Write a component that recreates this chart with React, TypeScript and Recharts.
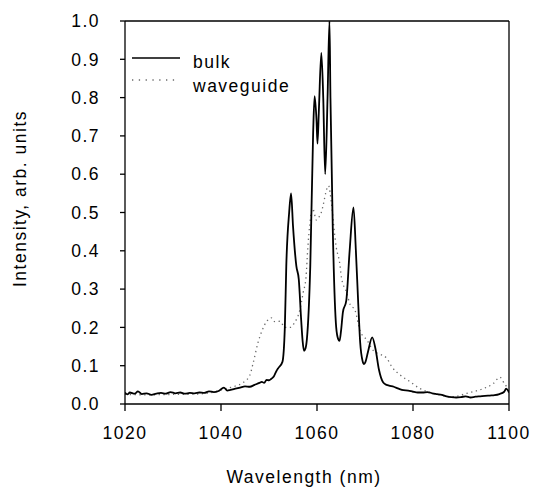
import React from "react";
import { LineChart, Line, XAxis, YAxis, Legend, ReferenceLine, Label } from "recharts";

const bulkX = [
  1020, 1020.5, 1021, 1022, 1022.7, 1023.5, 1024.5, 1025.5, 1026.5, 1027.5, 1028.5, 1029.5, 1030.5, 1031.5,
  1032.5, 1033.5, 1034.5, 1035.5, 1036.5, 1037.5, 1038.5, 1039.5, 1040.6, 1041.3, 1042, 1043, 1044, 1045,
  1046, 1047, 1048, 1048.5, 1049, 1049.5, 1050, 1050.5, 1051, 1051.5, 1052, 1052.8, 1053.3, 1053.6, 1054.2, 1054.6,
  1055, 1055.7, 1056.2, 1056.7, 1057, 1057.3, 1057.6, 1057.9, 1058.6, 1059.2, 1059.5, 1059.9, 1060.1, 1060.4, 1060.9,
  1061.3, 1061.7, 1062.2, 1062.6, 1062.8, 1063.3, 1064, 1064.4, 1064.7, 1065, 1065.4, 1066.1, 1066.8, 1067.6, 1068.1,
  1068.6, 1069, 1069.5, 1069.8, 1070.1, 1070.6, 1071.5, 1072.2, 1072.9, 1073.8, 1074.5, 1075, 1076, 1077, 1078, 1079,
  1080, 1081, 1082, 1083, 1084, 1085, 1086, 1087, 1088, 1089, 1090, 1091, 1092, 1093, 1094, 1095, 1096,
  1097, 1098, 1099, 1099.4, 1100,
];
const bulkY = [
  0.03, 0.025, 0.03, 0.027, 0.033, 0.026, 0.028, 0.024, 0.027, 0.029, 0.027, 0.031, 0.028, 0.03,
  0.027, 0.029, 0.028, 0.03, 0.029, 0.033, 0.031, 0.034, 0.043, 0.035, 0.037, 0.04, 0.043, 0.046,
  0.045, 0.05, 0.055, 0.058, 0.055, 0.063, 0.062, 0.066, 0.072, 0.085, 0.095, 0.11, 0.2, 0.36, 0.5, 0.55,
  0.465, 0.36, 0.326, 0.22, 0.165, 0.139, 0.145, 0.17, 0.36, 0.71, 0.804, 0.74, 0.68, 0.77, 0.917,
  0.8, 0.6, 0.8, 1.0, 0.8, 0.45, 0.2, 0.17, 0.165, 0.19, 0.24, 0.27, 0.4, 0.513, 0.4,
  0.26, 0.16, 0.112, 0.104, 0.11, 0.135, 0.174, 0.143, 0.09, 0.056, 0.05, 0.048, 0.045, 0.04, 0.036, 0.035,
  0.032, 0.03, 0.03, 0.031, 0.028, 0.026, 0.024, 0.02, 0.018, 0.017, 0.018, 0.02, 0.017, 0.019, 0.02, 0.021, 0.022,
  0.023, 0.026, 0.032, 0.04, 0.03,
];

const waveX = [
  1020, 1025, 1030, 1035, 1038, 1041, 1043, 1044.6, 1046, 1046.7, 1047.7, 1048.5, 1049.6, 1050.5, 1051.2,
  1052.3, 1053.3, 1054.4, 1055.2, 1056.5, 1057.1, 1057.7, 1058.1, 1058.5, 1059.1, 1059.9, 1060.5, 1060.9,
  1061.3, 1062, 1062.4, 1063, 1063.7, 1064, 1064.7, 1065.1, 1066.2, 1066.9, 1067.9, 1069, 1070.4, 1071.7,
  1073.1, 1074.5, 1075.6, 1077.3, 1079.4, 1081.5, 1084.2, 1088.4, 1091.2, 1094.6, 1096.7, 1098.1, 1099.2, 1100,
];
const waveY = [
  0.025, 0.024, 0.025, 0.026, 0.03, 0.04, 0.047, 0.056, 0.075, 0.107, 0.16, 0.19, 0.217, 0.225, 0.215,
  0.216, 0.2, 0.2, 0.21, 0.25, 0.29, 0.33, 0.41, 0.47, 0.51, 0.48, 0.49, 0.5,
  0.52, 0.56, 0.57, 0.525, 0.44, 0.41, 0.37, 0.33, 0.29, 0.26, 0.245, 0.19, 0.167, 0.14,
  0.13, 0.12, 0.097, 0.076, 0.058, 0.04, 0.028, 0.019, 0.028, 0.04, 0.053, 0.07, 0.05, 0.04,
];

const xTicks = [1020, 1040, 1060, 1080, 1100];
const yTicks = [0, 0.1, 0.2, 0.3, 0.4, 0.5, 0.6, 0.7, 0.8, 0.9, 1.0];
const seriesNames = ["bulk", "waveguide"];

const bulkData = bulkX.map((x, i) => ({ x, y: bulkY[i] }));
const waveData = waveX.map((x, i) => ({ x, y: waveY[i] }));

const FONT = "'Liberation Sans', Arial, sans-serif";
const FS = 17.5;
const LS = 1.5;
const WAVE_COLOR = "#6a6a6a";

const LegendContent = () => (
  <svg width={220} height={56} style={{ display: "block" }}>
    <line x1={2} y1={13} x2={50} y2={13} stroke="#000" strokeWidth={1.5} />
    <text x={63} y={23} fontFamily={FONT} fontSize={FS} letterSpacing={LS} fill="#000">
      {seriesNames[0]}
    </text>
    <line x1={2} y1={35} x2={46} y2={35} stroke={WAVE_COLOR} strokeWidth={1.3} strokeDasharray="1.3 5.5" />
    <text x={63} y={47} fontFamily={FONT} fontSize={FS} letterSpacing={LS} fill="#000">
      {seriesNames[1]}
    </text>
  </svg>
);

export default function App() {
  return (
    <div style={{ position: "absolute", left: 0, top: 0, background: "#fff" }}>
      <LineChart width={533} height={489} margin={{ top: 21, right: 24, bottom: 55, left: 65 }}>
        <XAxis
          dataKey="x"
          type="number"
          domain={[1020, 1100]}
          ticks={xTicks}
          height={30}
          allowDataOverflow
          stroke="#000"
          strokeWidth={1.3}
          tickSize={7}
          tickMargin={16}
          tick={{ fill: "#000", fontSize: FS, fontFamily: FONT, letterSpacing: LS }}
        >
          <Label
            value="Wavelength (nm)"
            position="bottom"
            offset={37}
            dx={-13}
            fill="#000"
            fontSize={FS}
            fontFamily={FONT}
            letterSpacing={LS}
          />
        </XAxis>
        <YAxis
          type="number"
          domain={[0, 1]}
          ticks={yTicks}
          width={60}
          allowDataOverflow
          stroke="#000"
          strokeWidth={1.3}
          tickSize={5}
          tickMargin={20}
          tickFormatter={(v: number) => v.toFixed(1)}
          tick={{ fill: "#000", fontSize: FS, fontFamily: FONT, letterSpacing: LS }}
        >
          <Label
            value="Intensity, arb. units"
            angle={-90}
            position="center"
            dx={-75}
            dy={-14}
            fill="#000"
            fontSize={FS}
            fontFamily={FONT}
            letterSpacing={LS}
          />
        </YAxis>
        <ReferenceLine y={1} stroke="#000" strokeWidth={1.3} />
        <ReferenceLine x={1100} stroke="#000" strokeWidth={1.3} />
        <Line
          data={waveData}
          dataKey="y"
          name={seriesNames[1]}
          type="monotone"
          stroke={WAVE_COLOR}
          strokeWidth={1.3}
          strokeDasharray="1.3 3.5"
          dot={false}
          isAnimationActive={false}
        />
        <Line
          data={bulkData}
          dataKey="y"
          name={seriesNames[0]}
          type="monotone"
          stroke="#000"
          strokeWidth={1.8}
          dot={false}
          isAnimationActive={false}
        />
        <Legend
          layout="vertical"
          align="center"
          verticalAlign="middle"
          content={<LegendContent />}
          wrapperStyle={{ position: "absolute", left: 130, top: 45, width: 220 }}
        />
      </LineChart>
    </div>
  );
}
